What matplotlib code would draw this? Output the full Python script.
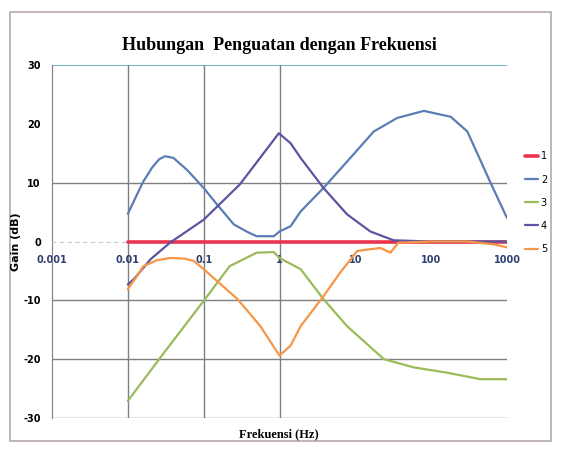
import matplotlib
matplotlib.use("Agg")
import matplotlib.pyplot as plt
from matplotlib.patches import Rectangle
import numpy as np

# ---- data ----
f1 = [0.01, 1000]
g1 = [0, 0]

f2 = [0.01, 0.013, 0.016, 0.021, 0.026, 0.031, 0.04, 0.06, 0.1, 0.15, 0.25, 0.38, 0.5, 0.84, 1.0, 1.4, 1.9, 3.8, 7.8, 17.5, 35.7, 80, 181, 300, 611, 1000]
g2 = [4.7, 7.8, 10.2, 12.6, 14.0, 14.5, 14.2, 12.2, 9.1, 6.3, 2.9, 1.6, 0.9, 0.9, 1.7, 2.6, 5.1, 9.1, 13.6, 18.7, 21.0, 22.2, 21.2, 18.7, 9.9, 4.0]

f3 = [0.01, 0.03, 0.1, 0.22, 0.5, 0.84, 1.0, 1.9, 3.8, 7.8, 23.8, 59, 162, 447, 1000]
g3 = [-27.1, -18.9, -10.1, -4.2, -1.9, -1.8, -2.8, -4.7, -9.8, -14.4, -20.0, -21.4, -22.3, -23.4, -23.4]

f4 = [0.01, 0.012, 0.02, 0.036, 0.1, 0.3, 0.98, 1.4, 1.9, 3.8, 7.8, 15.8, 32, 100, 1000]
g4 = [-7.3, -6.4, -3.0, -0.2, 3.7, 9.7, 18.4, 16.7, 14.2, 9.1, 4.6, 1.7, 0.2, 0.0, 0.0]

f5 = [0.01, 0.013, 0.016, 0.024, 0.036, 0.055, 0.074, 0.1, 0.28, 0.56, 1.0, 1.4, 1.9, 3.8, 6.3, 10.6, 21.4, 29, 37, 100, 300, 676, 1000]
g5 = [-8.1, -6.0, -4.2, -3.2, -2.8, -2.9, -3.3, -4.7, -9.8, -14.4, -19.4, -17.7, -14.4, -9.3, -5.3, -1.6, -1.1, -1.9, -0.2, 0.0, 0.0, -0.5, -1.0]

series = [("1", f1, g1, "#E8344E", 2.6),
          ("2", f2, g2, "#5B7DB5", 1.6),
          ("3", f3, g3, "#9BBB59", 1.6),
          ("4", f4, g4, "#5A55A0", 1.6),
          ("5", f5, g5, "#F79646", 1.6)]

xticks = [0.001, 0.01, 0.1, 1, 10, 100, 1000]
xticklabels = ["0.001", "0.01", "0.1", "1", "10", "100", "1000"]
yticks = [-30, -20, -10, 0, 10, 20, 30]
yticklabels = ["-30", "-20", "-10", "0", "10", "20", "30"]

fig = plt.figure(figsize=(5.61, 4.49), dpi=100)
fig.patch.set_facecolor("white")
fig.add_artist(Rectangle((10 / 561, 1 - 441 / 449), 541 / 561, 429 / 449,
                         transform=fig.transFigure, fill=False,
                         edgecolor="#B8A8A8", lw=1.2))

ax = fig.add_axes([52 / 561, 1 - 418 / 449, 455 / 561, 353 / 449])
ax.set_xscale("log")
ax.set_xlim(0.001, 1000)
ax.set_ylim(-30, 30)

gray = "#7F7F7F"
for yv in [10, -10, -20, -30]:
    ax.axhline(yv, color=gray, lw=1.0, zorder=1)
ax.axhline(30, color="#6FB7C9", lw=1.4, zorder=1)
for xv in [0.01, 0.1, 1]:
    ax.axvline(xv, color=gray, lw=1.0, zorder=1)

for name, f, g, c, lw in series:
    ax.plot(f, g, color=c, lw=lw, label=name, zorder=3,
            solid_joinstyle="round", solid_capstyle="round")

for s in ["top", "right"]:
    ax.spines[s].set_visible(False)
ax.spines["left"].set_color(gray)
ax.spines["bottom"].set_position(("data", 0))
ax.spines["bottom"].set_color("#C8C8C8")
ax.spines["bottom"].set_linestyle((0, (3, 4)))

ax.set_xticks(xticks)
ax.set_xticklabels(xticklabels, fontsize=7, color="#2F3F6F", fontweight="bold")
ax.xaxis.set_minor_locator(matplotlib.ticker.NullLocator())
ax.tick_params(axis="x", length=0, pad=10)
ax.set_yticks(yticks)
ax.set_yticklabels(yticklabels, fontsize=7, fontweight="bold")
ax.tick_params(axis="y", length=0, pad=8)

fig.text(279 / 561, 1 - 45 / 449, "Hubungan  Penguatan dengan Frekuensi",
         ha="center", va="center", fontsize=13, fontweight="bold",
         family="Liberation Serif")
fig.text(279 / 561, 1 - 434 / 449, "Frekuensi (Hz)", ha="center", va="center",
         fontsize=9, fontweight="bold", family="Liberation Serif")
fig.text(16 / 561, 1 - 242 / 449, "Gain (dB)", ha="center", va="center",
         rotation=90, fontsize=8, fontweight="bold")

leg = ax.legend(loc="upper left", bbox_to_anchor=(1.04, 0.755), frameon=False,
                fontsize=7, handlelength=1.3, handletextpad=0.3, labelspacing=1.35,
                borderaxespad=0, borderpad=0)

fig.savefig("out.png", dpi=100)
